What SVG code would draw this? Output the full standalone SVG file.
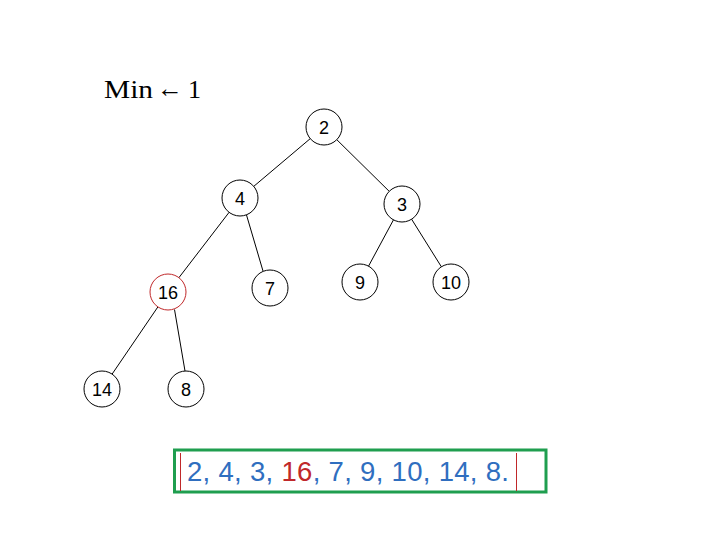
<svg xmlns="http://www.w3.org/2000/svg" width="720" height="540" viewBox="0 0 720 540">
<style>
.node circle{fill:#fff;stroke:#000;stroke-width:1}
.node text{font-family:"Liberation Sans",Arial,sans-serif;font-size:18px;text-anchor:middle;fill:#000}
.edges line{stroke:#000;stroke-width:1}
.title{font-family:"Liberation Serif","DejaVu Serif",serif;font-size:26px;fill:#000}
</style>
<rect width="720" height="540" fill="#fff"/>
<text class="title" x="104" y="98" textLength="49" lengthAdjust="spacingAndGlyphs">Min</text>
<text class="title" x="157" y="97" textLength="26" lengthAdjust="spacingAndGlyphs">←</text>
<text class="title" x="188" y="98">1</text>
<g class="edges">
<line x1="310.3" y1="138.6" x2="253.7" y2="186.4"/>
<line x1="336.8" y1="139.7" x2="389.2" y2="191.3"/>
<line x1="229.1" y1="212.3" x2="178.9" y2="277.7"/>
<line x1="246.5" y1="215" x2="263" y2="271"/>
<line x1="393.5" y1="219.8" x2="368.5" y2="266.2"/>
<line x1="411.6" y1="219.2" x2="441.4" y2="266.8"/>
<line x1="157.9" y1="306.9" x2="112.1" y2="374.1"/>
<line x1="174.5" y1="309.5" x2="185" y2="371"/>
</g>
<g id="n2" class="node"><circle cx="324" cy="127" r="18"/><text x="324" y="133.5">2</text></g>
<g id="n4" class="node"><circle cx="240" cy="198" r="18"/><text x="240" y="204.5">4</text></g>
<g id="n3" class="node"><circle cx="402" cy="204" r="18"/><text x="402" y="210.5">3</text></g>
<g id="n16" class="node"><circle cx="168" cy="292" r="18" style="stroke:#c0282a"/><text x="168" y="298.5">16</text></g>
<g id="n7" class="node"><circle cx="270" cy="288" r="18"/><text x="270" y="294.5">7</text></g>
<g id="n9" class="node"><circle cx="360" cy="282" r="18"/><text x="360" y="288.5">9</text></g>
<g id="n10" class="node"><circle cx="451" cy="282" r="18"/><text x="451" y="288.5">10</text></g>
<g id="n14" class="node"><circle cx="102" cy="389" r="18"/><text x="102" y="395.5">14</text></g>
<g id="n8" class="node"><circle cx="186" cy="389" r="18"/><text x="186" y="395.5">8</text></g>
<g id="array">
<rect x="174.5" y="450" width="371.5" height="42" fill="none" stroke="#1f9e4f" stroke-width="3"/>
<line x1="180.5" y1="453" x2="180.5" y2="491" stroke="#c0282a" stroke-width="1"/>
<line x1="516.5" y1="453" x2="516.5" y2="491" stroke="#c0282a" stroke-width="1"/>
<text x="187" y="481" font-family="'Liberation Sans',Arial,sans-serif" font-size="27.5" fill="#2f6ebf" textLength="322">2, 4, 3, <tspan fill="#c0282a">16</tspan>, 7, 9, 10, 14, 8.</text>
</g>
</svg>
